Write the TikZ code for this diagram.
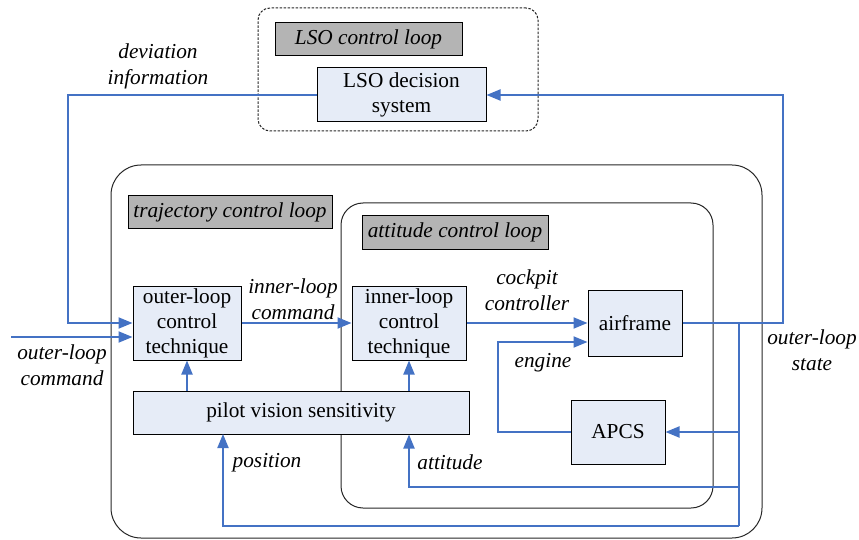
\documentclass[tikz,border=0pt]{standalone}
\usepackage{fontspec}
\setmainfont{Liberation Serif}
\usetikzlibrary{arrows.meta}
\definecolor{boxblue}{RGB}{230,236,247}
\definecolor{lblgray}{RGB}{180,180,180}
\definecolor{linkblue}{RGB}{68,114,196}
\begin{document}
\begin{tikzpicture}[x=1pt,y=-1pt,
  every node/.style={font=\fontsize{21.3}{25}\selectfont},
  blk/.style={draw=black, fill=boxblue, line width=1pt, inner sep=0pt, align=center},
  lbl/.style={draw=black, fill=lblgray, line width=1pt, inner sep=0pt, font=\fontsize{21.3}{25}\selectfont\itshape},
  frame/.style={draw=black!85, line width=1pt, inner sep=0pt},
  txt/.style={align=center, inner sep=0pt, font=\fontsize{21.3}{26}\selectfont\itshape},
  arr/.style={draw=linkblue, line width=2pt, -{Triangle[length=14pt,width=11pt]}},
  ln/.style={draw=linkblue, line width=2pt}
]
\useasboundingbox (0,0) rectangle (859,540);
% frames
\node[frame, dashed, dash pattern=on 2.5pt off 1.5pt, rounded corners=12pt, minimum width=280pt, minimum height=123pt] (lsoframe) at (398,69.5) {};
\node[frame, rounded corners=30pt, minimum width=651pt, minimum height=373pt] (trajframe) at (436.5,351.5) {};
\node[frame, rounded corners=22pt, minimum width=372pt, minimum height=305pt] (attframe) at (527,355.5) {};
% gray labels
\node[lbl, minimum width=187pt, minimum height=33pt] (lsol) at (368.5,39.5) {LSO control loop};
\node[lbl, minimum width=204pt, minimum height=32pt] (trajl) at (230,212) {trajectory control loop};
\node[lbl, minimum width=186pt, minimum height=33pt] (attl) at (455,232.5) {attitude control loop};
% blocks
\node[blk, minimum width=169pt, minimum height=54pt] (lso) at (401.5,95) {LSO decision\\system};
\node[blk, minimum width=108pt, minimum height=74pt] (olc) at (187,323) {outer-loop\\control\\technique};
\node[blk, minimum width=114pt, minimum height=74pt] (ilc) at (409,323) {inner-loop\\control\\technique};
\node[blk, minimum width=94pt, minimum height=66pt] (af) at (635,323) {airframe};
\node[blk, minimum width=94pt, minimum height=64pt] (apcs) at (618,432) {APCS};
\node[blk, minimum width=336pt, minimum height=43pt] (pv) at (301,412.5) {pilot vision sensitivity};
% coordinates
\coordinate (dv) at (68,323);
\coordinate (oin) at (11,337);
\coordinate (eg) at (498,342);
\coordinate (rt) at (783,323);
\coordinate (bt) at (739,323);
\coordinate (bb) at (739,526);
\coordinate (ba) at (739,487);
\coordinate (posx) at (223,434);
% connectors
\draw[arr] (lso.west) -| (dv) -- (olc.west);
\draw[arr] (oin) -- (olc.west |- oin);
\draw[arr] (olc.east) -- (ilc.west);
\draw[arr] (ilc.east) -- (af.west);
\draw[arr] (apcs.west) -| (eg) -- (af.west |- eg);
\draw[arr] (af.east) -- (rt) |- (lso.east);
\draw[ln] (bt) -- (bb);
\draw[arr] (bt |- apcs) -- (apcs.east);
\draw[arr] (ba) -| (pv.south -| ilc);
\draw[arr] (bb) -| (posx);
\draw[arr] (pv.north -| olc) -- (olc.south);
\draw[arr] (pv.north -| ilc) -- (ilc.south);
% labels
\node[txt] (devl) at (158,66) {deviation\\information};
\node[txt] (ocmd) at (62,365) {outer-loop\\command};
\node[txt] (icmd) at (293,299) {inner-loop\\command};
\node[txt] (cockl) at (527,290) {cockpit\\controller};
\node[txt] (engl) at (543,363) {engine};
\node[txt] (ostate) at (812,350) {outer-loop\\state};
\node[txt] (posl) at (267,463) {position};
\node[txt] (attxt) at (450,462) {attitude};
\end{tikzpicture}
\end{document}
